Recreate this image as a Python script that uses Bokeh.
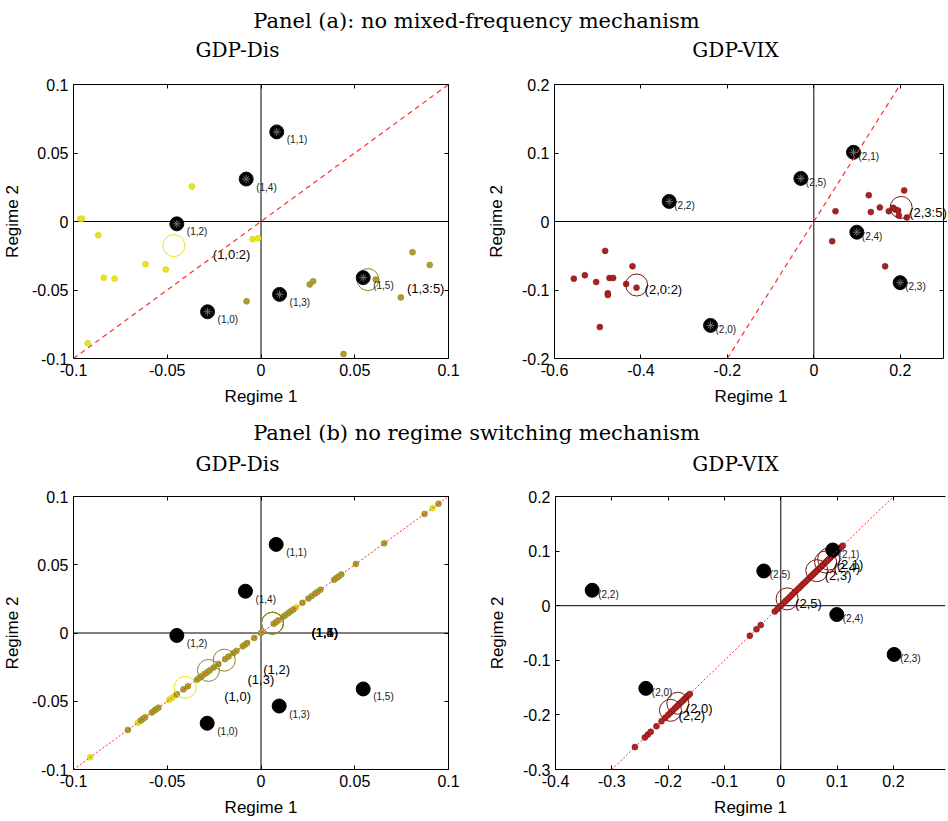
from bokeh.plotting import figure
from bokeh.layouts import column, row
from bokeh.models import Range1d, Span, Slope, LinearAxis, FixedTicker, LabelSet, ColumnDataSource
from bokeh.embed import file_html
from bokeh.resources import INLINE
from bokeh.core.properties import value

# ---------------- DATA ----------------
# Panel (a) GDP-Dis
a1_xticks = [-0.1, -0.05, 0, 0.05, 0.1]
a1_xlabels = ["-0.1", "-0.05", "0", "0.05", "0.1"]
a1_yticks = [-0.1, -0.05, 0, 0.05, 0.1]
a1_ylabels = ["-0.1", "-0.05", "0", "0.05", "0.1"]
a1_black_x = [-0.0285, 0.0084, -0.0449, 0.0099, -0.0079, 0.0545]
a1_black_y = [-0.0659, 0.0654, -0.0017, -0.0532, 0.031, -0.041]
a1_black_lab = ["(1,0)", "(1,1)", "(1,2)", "(1,3)", "(1,4)", "(1,5)"]
a1_yellow_x = [-0.0964, -0.0955, -0.0369, -0.0868, -0.0045, -0.0015, -0.0616, -0.0508, -0.0838, -0.0781, -0.0924]
a1_yellow_y = [0.002, 0.002, 0.0256, -0.01, -0.0129, -0.0122, -0.0312, -0.0351, -0.041, -0.0417, -0.0888]
a1_olive_x = [-0.0077, 0.026, 0.0278, 0.044, 0.0612, 0.0746, 0.0808, 0.09]
a1_olive_y = [-0.0583, -0.0459, -0.0437, -0.0968, -0.0424, -0.0554, -0.0224, -0.0317]
a1_grp_yellow = (-0.0465, -0.0176, "(1,0:2)")
a1_grp_olive = (0.057, -0.0424, "(1,3:5)")

# Panel (a) GDP-VIX
a2_xlim = (-0.6, 0.3)
a2_xticks = [-0.6, -0.4, -0.2, 0, 0.2]
a2_xlabels = ["-0.6", "-0.4", "-0.2", "0", "0.2"]
a2_yticks = [-0.2, -0.1, 0, 0.1, 0.2]
a2_ylabels = ["-0.2", "-0.1", "0", "0.1", "0.2"]
a2_black_x = [-0.239, 0.0918, -0.3347, 0.1997, 0.0995, -0.030]
a2_black_y = [-0.1517, 0.101, 0.0293, -0.0893, -0.0156, 0.0629]
a2_black_lab = ["(2,0)", "(2,1)", "(2,2)", "(2,3)", "(2,4)", "(2,5)"]
a2_red_x = [-0.5553, -0.5298, -0.5036, -0.4828, -0.4951, -0.4766, -0.4766, -0.4727, -0.4643, -0.4342,
            -0.4195, -0.4103, 0.0424, 0.0501, 0.1272, 0.1319, 0.1527, 0.1735, 0.1835, 0.1882,
            0.1951, 0.1967, 0.209, 0.2152, 0.165]
a2_red_y = [-0.0834, -0.0785, -0.0883, -0.0429, -0.1541, -0.1049, -0.1073, -0.0824, -0.0824, -0.0912,
            -0.0654, -0.0966, -0.0288, 0.0151, 0.0385, 0.0137, 0.0205, 0.0151, 0.02, 0.0176,
            0.0161, 0.0088, 0.0454, 0.0059, -0.0654]
a2_grp_x = [-0.41, 0.202]
a2_grp_y = [-0.0927, 0.0205]
a2_grp_lab = ["(2,0:2)", "(2,3:5)"]

# Panel (b) GDP-Dis
b1_black_x = [-0.0287, 0.0081, -0.0449, 0.0097, -0.0083, 0.0545]
b1_black_y = [-0.0661, 0.0649, -0.0018, -0.0535, 0.0306, -0.041]
b1_black_lab = ["(1,0)", "(1,1)", "(1,2)", "(1,3)", "(1,4)", "(1,5)"]
b1_olive_x = [-0.071, -0.0641, -0.063, -0.0618, -0.0582, -0.0568, -0.0559, -0.0547, -0.0449, -0.0413,
              -0.039, -0.0342, -0.0328, -0.0316, -0.0301, -0.0287, -0.0273, -0.0252, -0.0227, -0.0191,
              -0.0173, -0.0147, -0.0131, -0.0097, -0.0084, -0.0074, -0.0036, 0.0001, 0.0068, 0.0081,
              0.0093, 0.012, 0.0132, 0.0147, 0.0159, 0.0173, 0.0221, 0.0253, 0.0271, 0.0289,
              0.0301, 0.0317, 0.039, 0.0403, 0.0413, 0.0428, 0.0506, 0.0657, 0.0872, 0.0947]
b1_olive_y = [-0.071, -0.0641, -0.063, -0.0618, -0.0582, -0.0568, -0.0559, -0.0547, -0.0449, -0.0413,
              -0.039, -0.0342, -0.0328, -0.0316, -0.0301, -0.0287, -0.0273, -0.0252, -0.0227, -0.0191,
              -0.0173, -0.0147, -0.0131, -0.0097, -0.0084, -0.0074, -0.0036, 0.0001, 0.0068, 0.0081,
              0.0093, 0.012, 0.0132, 0.0147, 0.0159, 0.0173, 0.0221, 0.0253, 0.0271, 0.0289,
              0.0301, 0.0317, 0.039, 0.0403, 0.0413, 0.0428, 0.0506, 0.0657, 0.0872, 0.0947]
b1_yellow_x = [-0.0911, -0.0657, -0.049, -0.0476, -0.0458, 0.0189, 0.0915]
b1_yellow_y = [-0.0911, -0.0657, -0.049, -0.0476, -0.0458, 0.0189, 0.0915]
b1_grp_yellow_x = [-0.0404]
b1_grp_yellow_y = [-0.0398]
b1_grp_yellow_lab = ["(1,0)"]
b1_grp_olive_x = [-0.028, -0.0196, 0.0061, 0.0061, 0.0061]
b1_grp_olive_y = [-0.0274, -0.0199, 0.0072, 0.0072, 0.0072]
b1_grp_olive_lab = ["(1,3)", "(1,2)", "(1,1)", "(1,4)", "(1,5)"]

# Panel (b) GDP-VIX
b2_xticks = [-0.4, -0.3, -0.2, -0.1, 0, 0.1, 0.2]
b2_xlabels = ["-0.4", "-0.3", "-0.2", "-0.1", "0", "0.1", "0.2"]
b2_yticks = [-0.3, -0.2, -0.1, 0, 0.1, 0.2]
b2_ylabels = ["-0.3", "-0.2", "-0.1", "0", "0.1", "0.2"]
b2_black_x = [-0.2396, 0.0923, -0.3349, 0.2012, 0.0994, -0.0302]
b2_black_y = [-0.1514, 0.102, 0.0283, -0.0893, -0.0162, 0.0636]
b2_black_lab = ["(2,0)", "(2,1)", "(2,2)", "(2,3)", "(2,4)", "(2,5)"]
b2_red_x = [-0.259, -0.2414, -0.236, -0.231, -0.2207, -0.2118, -0.205, -0.2, -0.196, -0.192,
            -0.188, -0.185, -0.182, -0.179, -0.176, -0.173, -0.17, -0.167, -0.1645, -0.1615,
            -0.055, -0.0432, -0.0355, -0.0107, -0.006, 0.0, 0.004, 0.008, 0.012, 0.016,
            0.02, 0.024, 0.028, 0.032, 0.036, 0.04, 0.044, 0.048, 0.052, 0.055,
            0.058, 0.061, 0.064, 0.067, 0.07, 0.073, 0.076, 0.079, 0.082, 0.085,
            0.088, 0.091, 0.094, 0.097, 0.1, 0.104, 0.107, 0.11]
b2_red_y = [-0.259, -0.2414, -0.236, -0.231, -0.2207, -0.2118, -0.205, -0.2, -0.196, -0.192,
            -0.188, -0.185, -0.182, -0.179, -0.176, -0.173, -0.17, -0.167, -0.1645, -0.1615,
            -0.055, -0.0432, -0.0355, -0.0107, -0.006, 0.0, 0.004, 0.008, 0.012, 0.016,
            0.02, 0.024, 0.028, 0.032, 0.036, 0.04, 0.044, 0.048, 0.052, 0.055,
            0.058, 0.061, 0.064, 0.067, 0.07, 0.073, 0.076, 0.079, 0.082, 0.085,
            0.088, 0.091, 0.094, 0.097, 0.1, 0.104, 0.107, 0.11]
b2_grp_x = [-0.1828, 0.085, -0.1959, 0.0639, 0.0795, 0.0112]
b2_grp_y = [-0.1787, 0.0855, -0.1916, 0.0642, 0.080, 0.0125]
b2_grp_lab = ["(2,0)", "(2,1)", "(2,2)", "(2,3)", "(2,4)", "(2,5)"]

# ---------------- STYLE ----------------
YELLOW = "#e6e41c"
YELLOW_D = "#cfcc10"
OLIVE = "#a9a02a"
OLIVE_D = "#8a8420"
OLIVE_C = "#8c861e"
RED = "#a82222"
RED_D = "#7e1414"
LINE_RED = "#ff2b2b"
SANS = "Liberation Sans"
SERIF = "DejaVu Serif"


def make_fig(xr, yr, xt, xl, yt, yl, fw, fh, mbl, mbr, mbt, mbb, right_axis=True, ylab_standoff=5,
             xlab_standoff=8, box_right=None):
    p = figure(x_range=Range1d(*xr), y_range=Range1d(*yr), frame_width=fw, frame_height=fh,
               min_border_left=mbl, min_border_right=mbr, min_border_top=mbt, min_border_bottom=mbb,
               toolbar_location=None, output_backend="svg", outline_line_color=None,
               background_fill_color="white", border_fill_color="white")
    p.xgrid.visible = False
    p.ygrid.visible = False
    p.xaxis.ticker = FixedTicker(ticks=xt)
    p.yaxis.ticker = FixedTicker(ticks=yt)
    p.xaxis.major_label_overrides = {t: s for t, s in zip(xt, xl)}
    p.yaxis.major_label_overrides = {t: s for t, s in zip(yt, yl)}
    p.xaxis.axis_label = "Regime 1"
    p.yaxis.axis_label = "Regime 2"
    for ax in list(p.xaxis) + list(p.yaxis):
        ax.major_tick_in = 4
        ax.major_tick_out = 0
        ax.minor_tick_line_color = None
        ax.axis_line_color = "black"
        ax.major_tick_line_color = "black"
        ax.major_label_text_font = SANS
        ax.major_label_text_font_size = "16px"
        ax.major_label_text_color = "black"
        ax.major_label_standoff = 5
        ax.axis_label_text_font = SANS
        ax.axis_label_text_font_size = "17px"
        ax.axis_label_text_font_style = "normal"
        ax.axis_label_text_color = "black"
    p.xaxis.axis_label_standoff = xlab_standoff
    p.yaxis.axis_label_standoff = ylab_standoff
    top = LinearAxis(ticker=FixedTicker(ticks=xt), major_tick_in=4, major_tick_out=0,
                     minor_tick_line_color=None, axis_line_color="black",
                     major_label_text_font_size="0px", major_label_text_color=None,
                     major_label_standoff=0, major_label_overrides={t: "" for t in xt})
    p.add_layout(top, "above")
    if box_right is not None:
        p.xaxis.bounds = (xr[0], box_right)
        top.bounds = (xr[0], box_right)
    if right_axis:
        rax = LinearAxis(ticker=FixedTicker(ticks=yt), major_tick_in=4, major_tick_out=0,
                         minor_tick_line_color=None, axis_line_color="black",
                         major_label_text_font_size="0px", major_label_text_color=None,
                         major_label_standoff=0, major_label_overrides={t: "" for t in yt})
        if box_right is not None:
            rax.fixed_location = box_right
        p.add_layout(rax, "right")
    p.add_layout(Span(location=0, dimension="height", line_color="black", line_width=1, level="underlay"))
    p.add_layout(Span(location=0, dimension="width", line_color="black", line_width=1, level="underlay"))
    return p


def small_labels(p, x, y, lab, dx, dy):
    p.text(x, y, text=lab, x_offset=dx, y_offset=dy, text_font=value(SANS), text_font_size="10px",
           text_baseline="middle", text_align="left", text_color="#202020")


def group_labels(p, x, y, lab, dx, dy):
    p.text(x, y, text=lab, x_offset=dx, y_offset=dy, text_font=value(SANS), text_font_size="13px",
           text_baseline="middle", text_align="left", text_color="black")


# ---------- Panel (a) GDP-Dis ----------
a1 = make_fig((-0.1, 0.1), (-0.1, 0.1), a1_xticks, a1_xlabels, a1_yticks, a1_ylabels,
              375, 274, 72, 33, 22, 52, ylab_standoff=7)
a1.add_layout(Slope(gradient=1, y_intercept=0, line_color=LINE_RED, line_dash="5 4", line_width=1.2))
a1.scatter(a1_yellow_x, a1_yellow_y, size=6, fill_color=YELLOW, line_color=YELLOW_D, line_width=0.5)
a1.scatter(a1_olive_x, a1_olive_y, size=6, fill_color=OLIVE, line_color=OLIVE_D, line_width=0.5)
a1.scatter([a1_grp_yellow[0]], [a1_grp_yellow[1]], size=22, fill_color=None, line_color=YELLOW, line_width=1)
a1.scatter([a1_grp_olive[0]], [a1_grp_olive[1]], size=22, fill_color=None, line_color=OLIVE_C, line_width=1)
a1.scatter(a1_black_x, a1_black_y, size=14, fill_color="black", line_color="#111111")
a1.scatter(a1_black_x, a1_black_y, marker="asterisk", size=8, line_color="#6e6e6e", line_width=1)
small_labels(a1, a1_black_x, a1_black_y, a1_black_lab, 10, 8)
group_labels(a1, [a1_grp_yellow[0], a1_grp_olive[0]], [a1_grp_yellow[1], a1_grp_olive[1]],
             [a1_grp_yellow[2], a1_grp_olive[2]], 39, 9)

# ---------- Panel (a) GDP-VIX ----------
# frame runs 4px past the x=0.3 box edge so the "(2,3:5)" label is not clipped
a2_scale = 389 / (a2_xlim[1] - a2_xlim[0])
a2 = make_fig((a2_xlim[0], a2_xlim[1] + 4 / a2_scale), (-0.2, 0.2), a2_xticks, a2_xlabels, a2_yticks,
              a2_ylabels, 393, 274, 73, 0, 22, 52, ylab_standoff=13, box_right=a2_xlim[1])
a2.add_layout(Slope(gradient=1, y_intercept=0, line_color=LINE_RED, line_dash="5 4", line_width=1.2))
a2.scatter(a2_red_x, a2_red_y, size=6, fill_color=RED, line_color=RED_D, line_width=0.5)
a2.scatter(a2_grp_x, a2_grp_y, size=22, fill_color=None, line_color=RED_D, line_width=1)
a2.scatter(a2_black_x, a2_black_y, size=14, fill_color="black", line_color="#111111")
a2.scatter(a2_black_x, a2_black_y, marker="asterisk", size=8, line_color="#6e6e6e", line_width=1)
small_labels(a2, a2_black_x, a2_black_y, a2_black_lab, 5, 4)
group_labels(a2, a2_grp_x, a2_grp_y, a2_grp_lab, 8, 5)

# ---------- Panel (b) GDP-Dis ----------
b1 = make_fig((-0.1, 0.1), (-0.1, 0.1), a1_xticks, a1_xlabels, a1_yticks, a1_ylabels,
              375, 273, 72, 33, 22, 50, ylab_standoff=7)
b1.scatter(b1_yellow_x, b1_yellow_y, size=6, fill_color=YELLOW, line_color=YELLOW_D, line_width=0.5)
b1.scatter(b1_olive_x, b1_olive_y, size=6, fill_color=OLIVE, line_color=OLIVE_D, line_width=0.5)
b1.add_layout(Slope(gradient=1, y_intercept=0, line_color=LINE_RED, line_dash="2 2", line_width=1))
b1.scatter(b1_grp_yellow_x, b1_grp_yellow_y, size=22, fill_color=None, line_color=YELLOW, line_width=1)
b1.scatter(b1_grp_olive_x, b1_grp_olive_y, size=22, fill_color=None, line_color=OLIVE_C, line_width=1)
b1.scatter(b1_black_x, b1_black_y, size=14, fill_color="black", line_color="black")
small_labels(b1, b1_black_x, b1_black_y, b1_black_lab, 10, 8)
group_labels(b1, b1_grp_yellow_x + b1_grp_olive_x, b1_grp_yellow_y + b1_grp_olive_y,
             b1_grp_yellow_lab + b1_grp_olive_lab, 39, 9)

# ---------- Panel (b) GDP-VIX ----------
b2 = make_fig((-0.4, 0.2924), (-0.3, 0.2), b2_xticks, b2_xlabels, b2_yticks, b2_ylabels,
              390, 273, 74, 2, 22, 50, right_axis=False, ylab_standoff=13)
b2.scatter(b2_red_x, b2_red_y, size=6, fill_color=RED, line_color=RED_D, line_width=0.5)
b2.add_layout(Slope(gradient=1, y_intercept=0, line_color=LINE_RED, line_dash="2 2", line_width=1))
b2.scatter(b2_grp_x, b2_grp_y, size=22, fill_color=None, line_color=RED_D, line_width=1)
b2.scatter(b2_black_x, b2_black_y, size=14, fill_color="black", line_color="black")
small_labels(b2, b2_black_x, b2_black_y, b2_black_lab, 6, 4)
group_labels(b2, b2_grp_x, b2_grp_y, b2_grp_lab, 8, 5)


# ---------- Titles ----------
def title_fig(h, main, main_y, sub_y):
    t = figure(x_range=Range1d(0, 946), y_range=Range1d(h, 0), frame_width=946, frame_height=h,
               min_border=0, toolbar_location=None, output_backend="svg", outline_line_color=None,
               x_axis_type=None, y_axis_type=None)
    t.xgrid.visible = False
    t.ygrid.visible = False
    t.text([476], [main_y], text=[main], text_font=value(SERIF), text_font_size="21px",
           text_align="center", text_baseline="alphabetic", text_color="black")
    t.text([237, 735], [sub_y, sub_y], text=["GDP-Dis", "GDP-VIX"], text_font=value(SERIF),
           text_font_size="20px", text_align="center", text_baseline="alphabetic", text_color="black")
    return t


ta = title_fig(62, "Panel (a): no mixed-frequency mechanism", 20, 49)
tb = title_fig(64, "Panel (b) no regime switching mechanism", 22, 53)

layout = column(ta, row(a1, a2), tb, row(b1, b2))
open("out.html", "w").write(file_html(layout, INLINE))
